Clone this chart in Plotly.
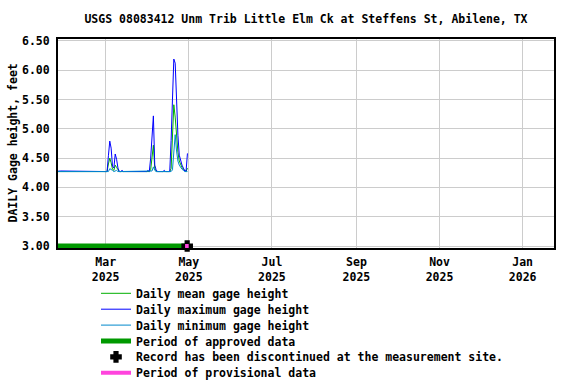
import pandas as pd
import plotly.graph_objects as go

# ---------------- data ----------------
dates = pd.date_range("2025-01-24", "2025-04-30", freq="D")

daily_max = [
    4.27, 4.28, 4.28, 4.28, 4.28, 4.27, 4.27,
    4.27, 4.27, 4.27, 4.27, 4.27, 4.27, 4.27,
    4.27, 4.27, 4.27, 4.27, 4.27, 4.28, 4.28,
    4.28, 4.28, 4.27, 4.28, 4.28, 4.27, 4.28,
    4.28, 4.28, 4.28, 4.28, 4.27, 4.27, 4.27,
    4.27, 4.27, 4.27, 4.54, 4.79, 4.67, 4.36,
    4.33, 4.57, 4.48, 4.33, 4.27, 4.27, 4.29,
    4.27, 4.27, 4.27, 4.27, 4.27, 4.27, 4.28,
    4.27, 4.27, 4.27, 4.27, 4.27, 4.27, 4.27,
    4.27, 4.27, 4.27, 4.27, 4.29, 4.27, 4.50,
    4.98, 5.22, 4.38, 4.30, 4.27, 4.27, 4.27,
    4.27, 4.27, 4.29, 4.27, 4.27, 4.27, 4.27,
    4.80, 5.72, 6.19, 6.12, 5.30, 4.89, 4.55,
    4.45, 4.38, 4.33, 4.28, 4.28, 4.58,
]

daily_mean = [
    4.27, 4.27, 4.27, 4.27, 4.27, 4.27, 4.27,
    4.27, 4.27, 4.27, 4.27, 4.27, 4.27, 4.27,
    4.27, 4.27, 4.27, 4.27, 4.27, 4.27, 4.27,
    4.27, 4.27, 4.27, 4.27, 4.27, 4.27, 4.27,
    4.27, 4.27, 4.27, 4.27, 4.27, 4.27, 4.27,
    4.27, 4.27, 4.27, 4.40, 4.50, 4.42, 4.31,
    4.29, 4.38, 4.34, 4.29, 4.27, 4.27, 4.27,
    4.27, 4.27, 4.27, 4.27, 4.27, 4.27, 4.27,
    4.27, 4.27, 4.27, 4.27, 4.27, 4.27, 4.27,
    4.27, 4.27, 4.27, 4.27, 4.27, 4.27, 4.30,
    4.55, 4.72, 4.32, 4.28, 4.27, 4.27, 4.27,
    4.27, 4.27, 4.27, 4.27, 4.27, 4.27, 4.27,
    4.32, 4.80, 5.41, 5.20, 4.85, 4.60, 4.45,
    4.38, 4.34, 4.31, 4.28, 4.27, 4.33,
]

daily_min = [
    4.27, 4.27, 4.27, 4.27, 4.27, 4.27, 4.27,
    4.27, 4.27, 4.27, 4.27, 4.27, 4.27, 4.27,
    4.27, 4.27, 4.27, 4.27, 4.27, 4.27, 4.27,
    4.27, 4.27, 4.27, 4.27, 4.27, 4.27, 4.27,
    4.27, 4.27, 4.27, 4.27, 4.27, 4.27, 4.27,
    4.27, 4.27, 4.27, 4.27, 4.32, 4.31, 4.29,
    4.27, 4.28, 4.29, 4.27, 4.27, 4.27, 4.27,
    4.27, 4.27, 4.27, 4.27, 4.27, 4.27, 4.27,
    4.27, 4.27, 4.27, 4.27, 4.27, 4.27, 4.27,
    4.27, 4.27, 4.27, 4.27, 4.27, 4.27, 4.27,
    4.28, 4.35, 4.29, 4.27, 4.27, 4.27, 4.27,
    4.27, 4.27, 4.27, 4.27, 4.27, 4.27, 4.27,
    4.27, 4.30, 4.65, 4.90, 4.62, 4.45, 4.38,
    4.34, 4.31, 4.29, 4.27, 4.27, 4.27,
]

approved_dates = ["2025-01-24", "2025-04-29 19:00"]
approved_level = [3.0, 3.0]
discontinued_date = ["2025-04-29 19:00"]
discontinued_level = [3.0]
provisional_dates = ["2025-04-28 06:00", "2025-04-30 22:00"]
provisional_level = [3.0, 3.0]

x_tick_dates = ["2025-03-01", "2025-05-01", "2025-07-01", "2025-09-01", "2025-11-01", "2026-01-01"]
x_tick_text = ["Mar<br>2025", "May<br>2025", "Jul<br>2025", "Sep<br>2025", "Nov<br>2025", "Jan<br>2026"]
y_tick_vals = [3.0, 3.5, 4.0, 4.5, 5.0, 5.5, 6.0, 6.5]
y_tick_text = ["3.00", "3.50", "4.00", "4.50", "5.00", "5.50", "6.00", "6.50"]

title_text = "USGS 08083412 Unm Trib Little Elm Ck at Steffens St, Abilene, TX"
y_title = "DAILY Gage height, feet"

# ---------------- figure ----------------
FONT = "DejaVu Sans Mono"
TXT = dict(family=FONT, size=11.5, color="black", weight="bold")
fig = go.Figure()

fig.add_trace(go.Scatter(x=dates, y=daily_mean, mode="lines", name="Daily mean gage height",
                         line=dict(color="#00b000", width=1), legend="legend"))
fig.add_trace(go.Scatter(x=dates, y=daily_max, mode="lines", name="Daily maximum gage height",
                         line=dict(color="#0000ff", width=1), legend="legend2"))
fig.add_trace(go.Scatter(x=dates, y=daily_min, mode="lines", name="Daily minimum gage height",
                         line=dict(color="#0088cc", width=1), legend="legend3"))
fig.add_trace(go.Scatter(x=approved_dates, y=approved_level, mode="lines", name="Period of approved data",
                         line=dict(color="#009900", width=5), legend="legend4"))
fig.add_trace(go.Scatter(x=discontinued_date, y=discontinued_level, mode="markers",
                         name="Record has been discontinued at the measurement site.",
                         marker=dict(symbol="cross", size=8, color="black",
                                     line=dict(color="black", width=2)),
                         cliponaxis=False, legend="legend5"))
fig.add_trace(go.Scatter(x=provisional_dates, y=provisional_level, mode="lines", name="Period of provisional data",
                         line=dict(color="#ff44dd", width=4), cliponaxis=False, legend="legend6"))

row_px = [293.3, 309.2, 325.1, 341.0, 356.9, 372.8]
legend_common = dict(font=TXT, bgcolor="rgba(0,0,0,0)", borderwidth=0,
                     xanchor="left", yanchor="middle",
                     xref="container", yref="container", x=96 / 576)
legends = {}
for k, ypx in enumerate(row_px):
    key = "legend" if k == 0 else f"legend{k + 1}"
    legends[key] = dict(legend_common, y=1 - ypx / 384)

axis_common = dict(showgrid=True, gridcolor="#cccccc", gridwidth=1, showline=True,
                   linecolor="black", linewidth=2, mirror=True, zeroline=False,
                   automargin=False, tickfont=TXT)

fig.update_layout(
    width=576, height=384,
    margin=dict(l=58, r=22, t=39, b=136, autoexpand=False),
    paper_bgcolor="white", plot_bgcolor="white",
    font=TXT,
    title=dict(text=title_text, x=0.5, xref="paper", xanchor="center",
               y=1 - 19 / 384, yref="container", yanchor="middle", font=TXT),
    xaxis=dict(axis_common, type="date", range=["2025-01-25", "2026-01-24"],
               tickmode="array", tickvals=x_tick_dates, ticktext=x_tick_text,
               ticks="", ticklabelstandoff=2),
    yaxis=dict(axis_common, range=[2.966, 6.532], tickmode="array",
               tickvals=y_tick_vals, ticktext=y_tick_text,
               ticks="outside", ticklen=4, tickcolor="rgba(0,0,0,0)"),
    annotations=[dict(text=y_title, textangle=-90, showarrow=False, font=TXT,
                      xref="paper", yref="paper", x=(12 - 58) / 496, y=0.5,
                      xanchor="center", yanchor="middle")],
    showlegend=True,
    **legends,
)

# the page body has a default 8px margin; remove it so the figure fills the window
fig.write_html("out.html", config={"displayModeBar": False},
               post_script="document.body.style.margin='0';")
